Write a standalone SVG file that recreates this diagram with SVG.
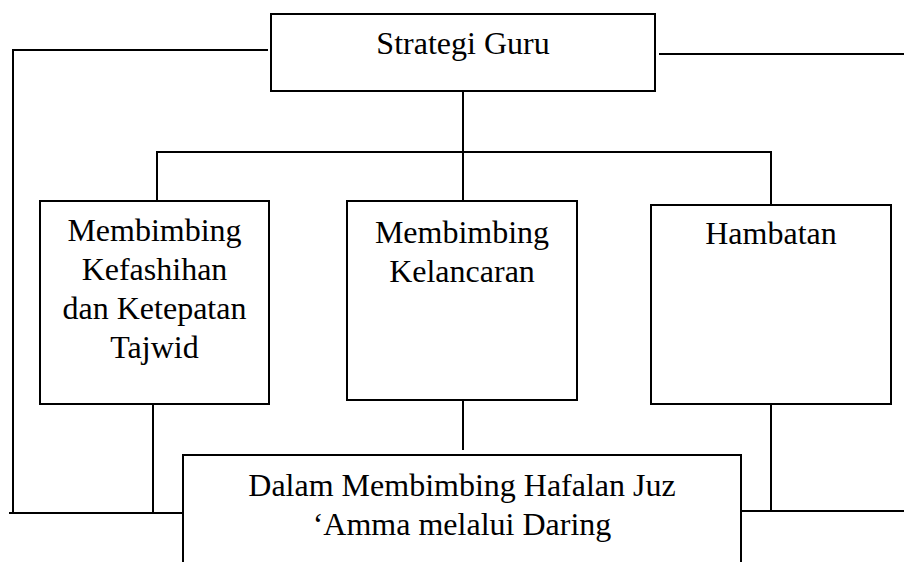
<svg xmlns="http://www.w3.org/2000/svg" width="904" height="562" viewBox="0 0 904 562">
<style>
.box{fill:#fff;stroke:#000;stroke-width:2}
.ln{fill:none;stroke:#000;stroke-width:2}
.t{font-size:32px;fill:#000;text-anchor:middle}
</style>
<rect width="904" height="562" fill="#fff"/>
<g id="connectors">
<polyline class="ln" points="268,50 13,50 13,513"/>
<line class="ln" x1="9" y1="513" x2="182" y2="513"/>
<line class="ln" x1="659" y1="54" x2="904" y2="54"/>
<line class="ln" x1="463" y1="91" x2="463" y2="201"/>
<polyline class="ln" points="157,201 157,152 771,152 771,205"/>
<line class="ln" x1="153" y1="404" x2="153" y2="514"/>
<line class="ln" x1="463" y1="398" x2="463" y2="450"/>
<line class="ln" x1="771" y1="404" x2="771" y2="511"/>
<line class="ln" x1="741" y1="511" x2="904" y2="511"/>
</g>
<g font-family="'Liberation Serif', Tinos, 'Times New Roman', Times, 'DejaVu Serif', serif">
<g id="strategi">
<rect class="box" x="271" y="14" width="384" height="77"/>
<text class="t" x="463" y="54">Strategi Guru</text>
</g>
<g id="kefashihan">
<rect class="box" x="40" y="201" width="229" height="203"/>
<text class="t" x="154.5" y="241">Membimbing</text>
<text class="t" x="154.5" y="280">Kefashihan</text>
<text class="t" x="154.5" y="319">dan Ketepatan</text>
<text class="t" x="154.5" y="358">Tajwid</text>
</g>
<g id="kelancaran">
<rect class="box" x="347" y="201" width="230" height="199"/>
<text class="t" x="462" y="243">Membimbing</text>
<text class="t" x="462" y="282">Kelancaran</text>
</g>
<g id="hambatan">
<rect class="box" x="651" y="205" width="240" height="199"/>
<text class="t" x="771" y="244">Hambatan</text>
</g>
<g id="dalam">
<rect class="box" x="183" y="455" width="558" height="120"/>
<text class="t" x="462" y="496">Dalam Membimbing Hafalan Juz</text>
<text class="t" x="462" y="535">‘Amma melalui Daring</text>
</g>
</g>
</svg>
